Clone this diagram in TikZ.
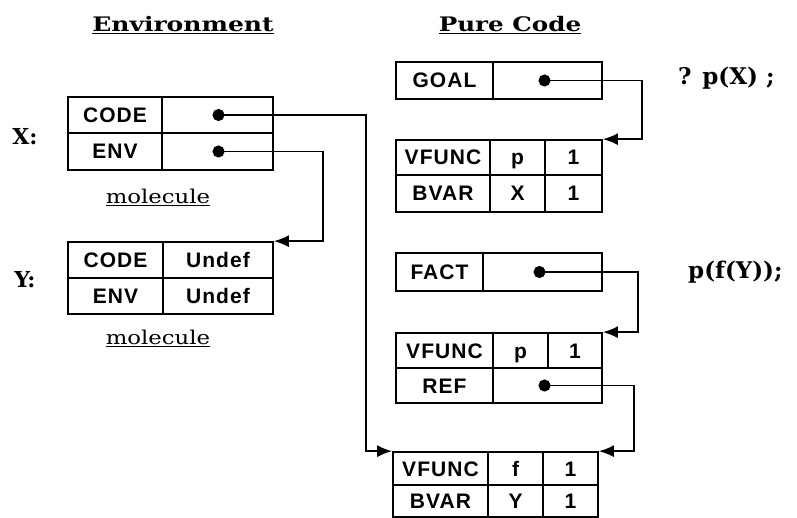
\documentclass[tikz,border=0pt]{standalone}
\usepackage{fontspec}
\usepackage{graphicx}
\usetikzlibrary{arrows.meta}
\setmainfont{DejaVu Serif}
\newfontfamily\cellfam[LetterSpace=5]{Liberation Sans}
\newfontfamily\headfam{DejaVu Serif}
\newcommand\cellbox[6]{\node[cellstyle,minimum width={(#4-#2)*1pt},minimum height={(#5-#3)*1pt}] (#1) at ({(#2+#4)/2},{(#3+#5)/2}) {#6};}
\begin{document}
\begin{tikzpicture}[x=1pt,y=-1pt,
  cellstyle/.style={draw,line width=1.7pt,inner sep=0pt,text height=15pt,text depth=0pt,font=\cellfam\bfseries\fontsize{21}{21}\selectfont},
  heading/.style={inner sep=0pt,font=\headfam\bfseries\fontsize{20}{22}\selectfont},
  caption/.style={inner sep=0pt,font=\headfam\fontsize{19}{21}\selectfont},
  varlabel/.style={inner sep=0pt,font=\headfam\bfseries\fontsize{22}{24}\selectfont},
  clause/.style={inner sep=0pt,anchor=west,font=\headfam\bfseries\fontsize{23}{25}\selectfont},
  ptr/.style={line width=1.8pt,{Circle[length=12pt]}-{Latex[length=15pt,width=12pt]}}]
\useasboundingbox (0,0) rectangle (797,518);
% headings
\node[heading] (henv) at (183,25) {\scalebox{1.25}[1]{\underline{Environment}}};
\node[heading] (hcode) at (510,25) {\scalebox{1.23}[1]{\underline{Pure Code}}};
% X molecule
\node[varlabel] (xlab) at (25,137) {X:};
\cellbox{xcode}{68}{97}{162}{133}{CODE}
\cellbox{xcodev}{162}{97}{273}{133}{}
\cellbox{xenv}{68}{133}{162}{170}{ENV}
\cellbox{xenvv}{162}{133}{273}{170}{}
\node[caption] (xmol) at (158,197) {\scalebox{1.2}[1]{\underline{molecule}}};
% Y molecule
\node[varlabel] (ylab) at (25,280) {Y:};
\cellbox{ycode}{68}{242}{163}{278}{CODE}
\cellbox{ycodev}{163}{242}{273}{278}{Undef}
\cellbox{yenv}{68}{278}{163}{314}{ENV}
\cellbox{yenvv}{163}{278}{273}{314}{Undef}
\node[caption] (ymol) at (158,338) {\scalebox{1.2}[1]{\underline{molecule}}};
% GOAL
\cellbox{goal}{396}{62}{493}{99}{GOAL}
\cellbox{goalv}{493}{62}{602}{99}{}
\node[clause] (qpx) at (678,78) {? p(X) ;};
\cellbox{vfa}{396}{140}{490}{175}{VFUNC}
\cellbox{vfap}{490}{140}{545}{175}{p}
\cellbox{vfan}{545}{140}{602}{175}{1}
\cellbox{bva}{396}{175}{490}{212}{BVAR}
\cellbox{bvax}{490}{175}{545}{212}{X}
\cellbox{bvan}{545}{175}{602}{212}{1}
% FACT
\cellbox{fact}{396}{253}{483}{291}{FACT}
\cellbox{factv}{483}{253}{602}{291}{}
\node[clause] (pfy) at (688,272) {p(f(Y));};
\cellbox{vfb}{396}{333}{493}{368}{VFUNC}
\cellbox{vfbp}{493}{333}{548}{368}{p}
\cellbox{vfbn}{548}{333}{602}{368}{1}
\cellbox{refc}{396}{368}{493}{403}{REF}
\cellbox{refv}{493}{368}{602}{403}{}
% bottom structure
\cellbox{vfc}{393}{452}{488}{485}{VFUNC}
\cellbox{vfcf}{488}{452}{543}{485}{f}
\cellbox{vfcn}{543}{452}{598}{485}{1}
\cellbox{bvc}{393}{485}{488}{517}{BVAR}
\cellbox{bvcy}{488}{485}{543}{517}{Y}
\cellbox{bvcn}{543}{485}{598}{517}{1}
% pointers
\draw[ptr] ([xshift=-5pt]xcodev.center) -| ([xshift=-26pt]vfc.north west) -- (vfc.north west);
\draw[ptr] ([xshift=-5pt]xenvv.center) -| ([xshift=49pt]ycodev.north east) -- (ycodev.north east);
\draw[ptr] ([xshift=-9pt]goalv.center) -| ([xshift=39pt]vfan.north east) -- (vfan.north east);
\draw[ptr] ([xshift=-9pt]factv.center) -| ([xshift=35pt]vfbn.north east) -- (vfbn.north east);
\draw[ptr] ([xshift=-9pt]refv.center) -| ([xshift=35pt]vfcn.north east) -- (vfcn.north east);
\end{tikzpicture}
\end{document}
